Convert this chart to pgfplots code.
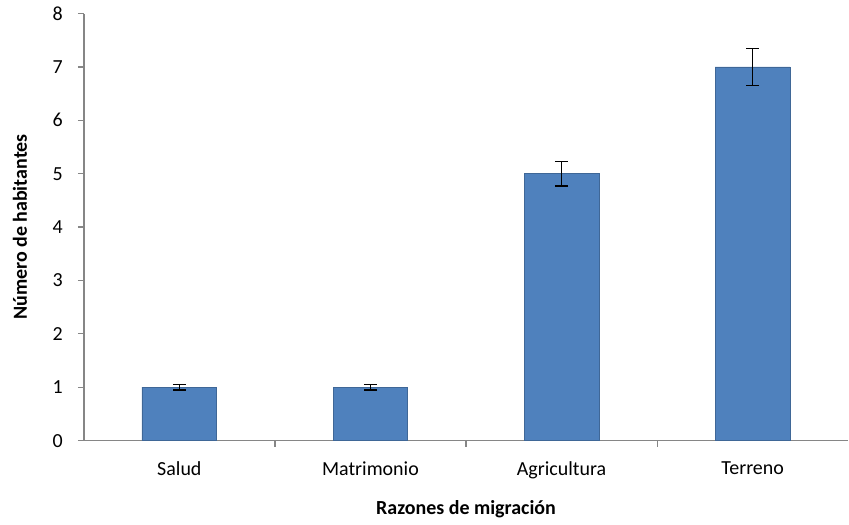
\documentclass[border=0pt]{standalone}
\usepackage{pgfplots}
\pgfplotsset{compat=1.18}
\usepackage{fontspec}
\setmainfont{Carlito}
\definecolor{barblue}{HTML}{4F81BD}
\definecolor{axgray}{HTML}{868686}
\begin{document}
\begin{tikzpicture}
\begin{axis}[
  name=ax,
  scale only axis,
  width=383pt, height=214pt,
  xmin=-0.5, xmax=3.5,
  ymin=0, ymax=8,
  ytick={0,1,...,8},
  xtick={0,1,2,3},
  xticklabels={Salud,Matrimonio,Agricultura,Terreno},
  minor xtick={0.5,1.5,2.5},
  major x tick style={draw=none},
  minor tick length=3pt,
  major tick length=3pt,
  tick align=outside,
  tick style={axgray, line width=0.6pt},
  axis x line*=bottom,
  axis y line*=left,
  axis line style={axgray, line width=0.8pt},
  ylabel={\bfseries Número de habitantes},
  xlabel={\bfseries Razones de migración},
  ylabel style={font=\fontsize{10}{12}\selectfont},
  ylabel shift=6pt,
  xlabel style={font=\fontsize{10}{12}\selectfont, yshift=-4pt},
  ticklabel style={font=\fontsize{10}{12}\selectfont},
  yticklabel style={xshift=-4pt},
  xticklabel style={yshift=-4pt},
  /pgf/number format/assume math mode=true,
  clip=false,
]
\addplot[ybar, bar width=37.5pt, fill=barblue, draw=barblue!80!black,
  error bars/.cd, y dir=both, y explicit,
  error bar style={black, line width=0.6pt},
  error mark options={black, rotate=90, mark size=3.3pt, line width=0.6pt}]
  coordinates {
    (0,1) +- (0,0.05)
    (1,1) +- (0,0.05)
    (2,5) +- (0,0.23)
    (3,7) +- (0,0.35)
  };
\end{axis}
\path (ax.west) ++(-42pt,0) coordinate (padL);
\path (padL) rectangle ++(0.1pt,0.1pt);
\end{tikzpicture}
\end{document}
